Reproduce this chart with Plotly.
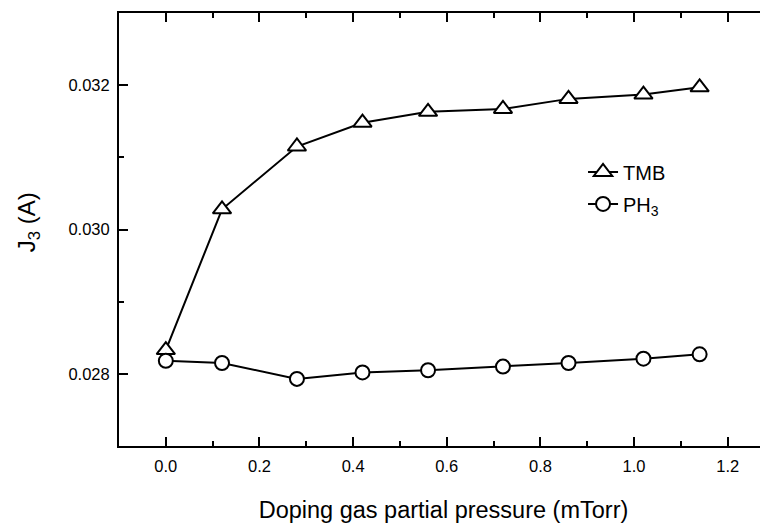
import plotly.graph_objects as go

# doping gas partial pressure (mTorr)
pressure = [0.0, 0.12, 0.28, 0.42, 0.56, 0.72, 0.86, 1.02, 1.14]

# J3 current (A)
j3_tmb = [0.02833, 0.03028, 0.03115, 0.03148, 0.03163, 0.03167, 0.03181, 0.03187, 0.03197]
j3_ph3 = [0.02818, 0.02815, 0.02793, 0.02802, 0.02805, 0.02810, 0.02815, 0.02821, 0.02827]

font_family = "Arial, Liberation Sans, sans-serif"

fig = go.Figure()
fig.add_trace(go.Scatter(
    x=pressure, y=j3_tmb, name="TMB", mode="lines+markers", legendgroup="tmb",
    line=dict(color="black", width=2),
    marker=dict(symbol="triangle-up", size=16, color="white",
                line=dict(color="black", width=2)),
))
fig.add_trace(go.Scatter(
    x=pressure, y=j3_ph3, name="PH<sub>3</sub>", mode="lines+markers", legendgroup="ph3",
    line=dict(color="black", width=2),
    marker=dict(symbol="circle", size=14, color="white",
                line=dict(color="black", width=2)),
))

# page body adds an 8px margin, so the figure is a bit smaller than the window
fig.update_layout(
    width=760, height=523,
    margin=dict(l=111, r=0, t=5, b=85),
    plot_bgcolor="white", paper_bgcolor="white",
    font=dict(family=font_family, color="black", size=16.5),
    showlegend=True,
    legend=dict(x=0.715, y=0.678, xanchor="left", yanchor="top",
                font=dict(size=20), bgcolor="rgba(0,0,0,0)",
                tracegroupgap=3),
)
fig.update_xaxes(
    range=[-0.1, 1.286], showgrid=False, zeroline=False,
    showline=True, linecolor="black", linewidth=2, mirror="ticks",
    ticks="inside", ticklen=9, tickwidth=1.5, tickcolor="black",
    tick0=0, dtick=0.2, tickformat=".1f", ticklabelstandoff=4,
    minor=dict(ticks="inside", ticklen=5, tickwidth=1.5, dtick=0.1, tickcolor="black"),
    title=dict(text="Doping gas partial pressure (mTorr)", font=dict(size=23.5), standoff=28),
)
fig.update_yaxes(
    range=[0.027, 0.033], showgrid=False, zeroline=False,
    showline=True, linecolor="black", linewidth=2, mirror=False,
    ticks="inside", ticklen=9, tickwidth=1.5, tickcolor="black",
    tick0=0, dtick=0.002, tickformat=".3f", ticklabelstandoff=4,
    minor=dict(ticks="inside", ticklen=5, tickwidth=1.5, dtick=0.001, tickcolor="black"),
)
fig.add_annotation(
    text="J<sub>3</sub> (A)", textangle=-90, showarrow=False,
    xref="paper", yref="paper", x=-0.14, y=0.517,
    xanchor="center", yanchor="middle", font=dict(size=24),
)

fig.write_html("out.html")
